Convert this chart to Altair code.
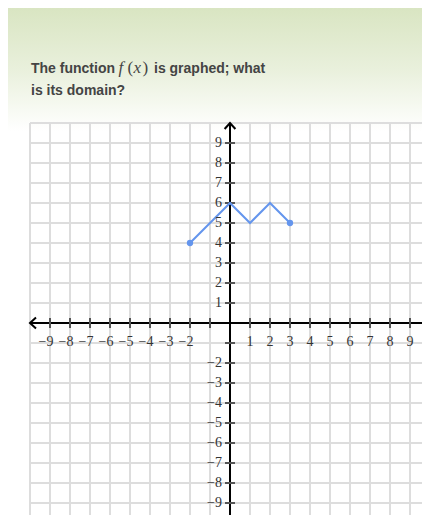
import altair as alt
import pandas as pd

# function graph data
line_x = [-2, 0, 1, 2, 3]
line_y = [4, 6, 5, 6, 5]
end_x = [-2, 3]
end_y = [4, 5]

# grid / axes
grid_vals = list(range(-10, 11))
tick_vals = [v for v in range(-9, 10) if v != 0]
x_label_vals = [-9, -8, -7, -6, -5, -4, -3, -2, 1, 2, 3, 4, 5, 6, 7, 8, 9]
y_label_vals = [9, 8, 7, 6, 5, 4, 3, 2, 1, -2, -3, -4, -5, -6, -7, -8, -9]
arrow_x = [10, -10, 0, 0]
arrow_y = [0, 0, 10, -10]
arrow_angle = [0, 180, 270, 90]

title_a = "The function"
title_math = ["f", "(", "x", ")"]
title_math_italic = [True, False, True, False]
title_b = "is graphed; what"
title_line2 = "is its domain?"


def lab(v):
    return f"\u2212{abs(v)}" if v < 0 else str(v)


xs = alt.Scale(domain=[-10, 10], nice=False, zero=False)
ys = alt.Scale(domain=[-10, 10], nice=False, zero=False)

one = alt.Data(values=[{}])

bg = alt.Chart(one).mark_rect(
    color=alt.Gradient(
        gradient="linear",
        stops=[
            alt.GradientStop(color="#d9e5c2", offset=0),
            alt.GradientStop(color="#e9f0dc", offset=0.5),
            alt.GradientStop(color="#ffffff", offset=1),
        ],
        x1=0, x2=0, y1=0, y2=1,
    )
).encode(x=alt.value(-22), x2=alt.value(400), y=alt.value(-115), y2=alt.value(8))

vgrid_df = pd.DataFrame({"x": grid_vals, "y0": -10, "y1": 10})
hgrid_df = pd.DataFrame({"y": grid_vals, "x0": -10, "x1": 10})

vgrid = alt.Chart(vgrid_df).mark_rule(color="#dddddd", strokeWidth=2).encode(
    x=alt.X("x:Q", scale=xs, axis=None),
    y=alt.Y("y0:Q", scale=ys, axis=None),
    y2="y1:Q",
)
hgrid = alt.Chart(hgrid_df).mark_rule(color="#dddddd", strokeWidth=2).encode(
    y=alt.Y("y:Q", scale=ys, axis=None),
    x=alt.X("x0:Q", scale=xs, axis=None),
    x2="x1:Q",
)

xaxis_line = alt.Chart(pd.DataFrame({"x0": [-10], "x1": [10], "y": [0]})).mark_rule(
    color="black", strokeWidth=2
).encode(x="x0:Q", x2="x1:Q", y="y:Q")
yaxis_line = alt.Chart(pd.DataFrame({"y0": [-10], "y1": [10], "x": [0]})).mark_rule(
    color="black", strokeWidth=2
).encode(y="y0:Q", y2="y1:Q", x="x:Q")

xt_df = pd.DataFrame({"x": tick_vals, "a": -0.25, "b": 0.25})
yt_df = pd.DataFrame({"y": tick_vals, "a": -0.25, "b": 0.25})
xticks = alt.Chart(xt_df).mark_rule(color="#555555", strokeWidth=2).encode(
    x="x:Q", y="a:Q", y2="b:Q"
)
yticks = alt.Chart(yt_df).mark_rule(color="#555555", strokeWidth=2).encode(
    y="y:Q", x="a:Q", x2="b:Q"
)

arrows = alt.Chart(
    pd.DataFrame({"x": arrow_x, "y": arrow_y, "angle": arrow_angle})
).mark_point(
    shape="M-1,-0.9 L0,0 L-1,0.9",
    filled=False,
    stroke="black",
    strokeWidth=2,
    size=144,
    opacity=1,
).encode(x="x:Q", y="y:Q", angle=alt.Angle("angle:Q", scale=None))

fline = alt.Chart(pd.DataFrame({"x": line_x, "y": line_y})).mark_line(
    color="#6495ed", strokeWidth=2
).encode(x="x:Q", y="y:Q")
fdots = alt.Chart(pd.DataFrame({"x": end_x, "y": end_y})).mark_circle(
    color="#6495ed", size=40, opacity=1
).encode(x="x:Q", y="y:Q")

xl_df = pd.DataFrame({"x": x_label_vals, "y": 0, "t": [lab(v) for v in x_label_vals]})
yl_df = pd.DataFrame({"y": y_label_vals, "x": 0, "t": [lab(v) for v in y_label_vals]})
xlabels = alt.Chart(xl_df).mark_text(
    align="right", baseline="middle", dx=3.5, dy=19,
    font="Liberation Serif", fontSize=14, color="#333333"
).encode(x="x:Q", y="y:Q", text="t:N")
ylabels = alt.Chart(yl_df).mark_text(
    align="right", baseline="middle", dx=-8, dy=0,
    font="Liberation Serif", fontSize=14, color="#333333"
).encode(x="x:Q", y="y:Q", text="t:N")

sans = dict(align="left", baseline="alphabetic", font="Liberation Sans",
            fontWeight="bold", fontSize=14, color="#444444")
t1 = alt.Chart(one).mark_text(**sans).encode(
    x=alt.value(1), y=alt.value(-50), text=alt.value(title_a))
math_x = [88.5, 97.5, 103.5, 112.5]
math_layers = []
for ch, it, px in zip(title_math, title_math_italic, math_x):
    math_layers.append(
        alt.Chart(one).mark_text(
            align="left", baseline="alphabetic", font="Liberation Serif",
            fontStyle="italic" if it else "normal", fontSize=17, color="#444444"
        ).encode(x=alt.value(px), y=alt.value(-50), text=alt.value(ch))
    )
t3 = alt.Chart(one).mark_text(**sans).encode(
    x=alt.value(124), y=alt.value(-50), text=alt.value(title_b))
t4 = alt.Chart(one).mark_text(**sans).encode(
    x=alt.value(1), y=alt.value(-28), text=alt.value(title_line2))

chart = alt.layer(
    bg, vgrid, hgrid, xaxis_line, yaxis_line, xticks, yticks, arrows,
    fline, fdots, xlabels, ylabels, t1, *math_layers, t3, t4
).properties(
    width=400, height=400,
    padding={"left": 22, "top": 115, "right": -8, "bottom": -8},
    autosize=alt.AutoSizeParams(type="none"),
).configure_view(stroke=None)

chart.save("out.html", embed_options={"renderer": "svg", "actions": False})
